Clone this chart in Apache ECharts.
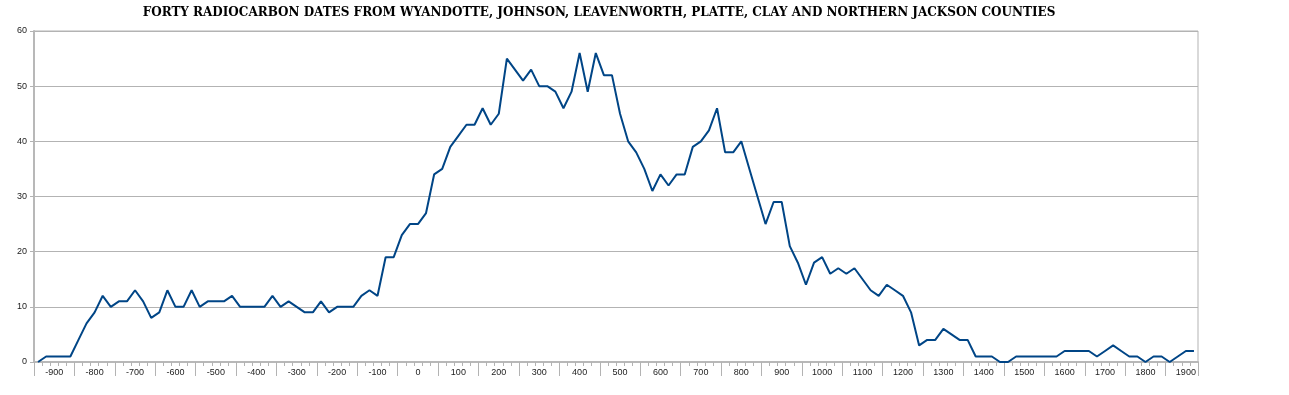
<!DOCTYPE html>
<html>
<head>
<meta charset="utf-8">
<script src="https://cdn.jsdelivr.net/npm/echarts@6/dist/echarts.min.js"></script>
<style>
  html, body { margin: 0; padding: 0; background: #ffffff; }
  #chart { width: 1289px; height: 395px; }
</style>
</head>
<body>
<div id="chart"></div>
<script>
// Years (20-year steps) on the category axis
const years = [
  -940,-920,-900,-880,-860,-840,-820,-800,-780,-760,
  -740,-720,-700,-680,-660,-640,-620,-600,-580,-560,
  -540,-520,-500,-480,-460,-440,-420,-400,-380,-360,
  -340,-320,-300,-280,-260,-240,-220,-200,-180,-160,
  -140,-120,-100,-80,-60,-40,-20,0,20,40,
  60,80,100,120,140,160,180,200,220,240,
  260,280,300,320,340,360,380,400,420,440,
  460,480,500,520,540,560,580,600,620,640,
  660,680,700,720,740,760,780,800,820,840,
  860,880,900,920,940,960,980,1000,1020,1040,
  1060,1080,1100,1120,1140,1160,1180,1200,1220,1240,
  1260,1280,1300,1320,1340,1360,1380,1400,1420,1440,
  1460,1480,1500,1520,1540,1560,1580,1600,1620,1640,
  1660,1680,1700,1720,1740,1760,1780,1800,1820,1840,
  1860,1880,1900,1920
];

// Summed number of overlapping radiocarbon dates per year
const counts = [
  0,1,1,1,1,4,7,9,12,10,
  11,11,13,11,8,9,13,10,10,13,
  10,11,11,11,12,10,10,10,10,12,
  10,11,10,9,9,11,9,10,10,10,
  12,13,12,19,19,23,25,25,27,34,
  35,39,41,43,43,46,43,45,55,53,
  51,53,50,50,49,46,49,56,49,56,
  52,52,45,40,38,35,31,34,32,34,
  34,39,40,42,46,38,38,40,35,30,
  25,29,29,21,18,14,18,19,16,17,
  16,17,15,13,12,14,13,12,9,3,
  4,4,6,5,4,4,1,1,1,0,
  0,1,1,1,1,1,1,2,2,2,
  2,1,2,3,2,1,1,0,1,1,
  0,1,2,2
];

const yTicks = { min: 0, max: 60, step: 10 };

const titleText = 'FORTY RADIOCARBON DATES FROM WYANDOTTE, JOHNSON, LEAVENWORTH, PLATTE, CLAY AND NORTHERN JACKSON COUNTIES';

const cats = years.map(String);

const chart = echarts.init(document.getElementById('chart'), null, { renderer: 'canvas' });

chart.setOption({
  animation: false,
  backgroundColor: '#ffffff',
  title: {
    text: titleText,
    left: 594,
    top: 2,
    textAlign: 'center',
    textStyle: {
      fontFamily: 'DejaVu Serif',
      fontWeight: 'bold',
      fontSize: 12,
      color: '#000000'
    }
  },
  grid: {
    left: 34,
    right: 91,
    top: 31,
    bottom: 33,
    show: true,
    borderColor: '#b3b3b3',
    borderWidth: 1,
    backgroundColor: 'transparent',
    containLabel: false
  },
  xAxis: [
    {
      type: 'category',
      data: cats,
      boundaryGap: true,
      axisLine: { show: true, lineStyle: { color: '#b8b8b8', width: 2 } },
      axisTick: {
        show: true,
        length: 14,
        interval: function (index) { return index % 5 === 0; },
        lineStyle: { color: '#b3b3b3', width: 1 }
      },
      axisLabel: {
        show: true,
        interval: function (index, value) { return Number(value) % 100 === 0; },
        margin: 6,
        fontFamily: 'Liberation Sans',
        fontSize: 9,
        color: '#222222'
      },
      splitLine: { show: false }
    },
    {
      type: 'category',
      data: cats,
      boundaryGap: true,
      position: 'bottom',
      axisLine: { show: false },
      axisTick: {
        show: true,
        length: 4,
        interval: 0,
        lineStyle: { color: '#b3b3b3', width: 1 }
      },
      axisLabel: { show: false },
      splitLine: { show: false }
    }
  ],
  yAxis: {
    type: 'value',
    min: yTicks.min,
    max: yTicks.max,
    interval: yTicks.step,
    axisLine: { show: true, lineStyle: { color: '#b8b8b8', width: 2 } },
    axisTick: { show: true, inside: false, length: 4, lineStyle: { color: '#b3b3b3' } },
    axisLabel: {
      margin: 7,
      fontFamily: 'Liberation Sans',
      fontSize: 9,
      color: '#222222'
    },
    splitLine: { show: true, lineStyle: { color: '#b3b3b3', width: 1 } }
  },
  series: [
    {
      type: 'line',
      xAxisIndex: 0,
      data: counts,
      showSymbol: false,
      symbol: 'none',
      lineStyle: { color: '#004586', width: 2 },
      itemStyle: { color: '#004586' }
    }
  ]
});
</script>
</body>
</html>
